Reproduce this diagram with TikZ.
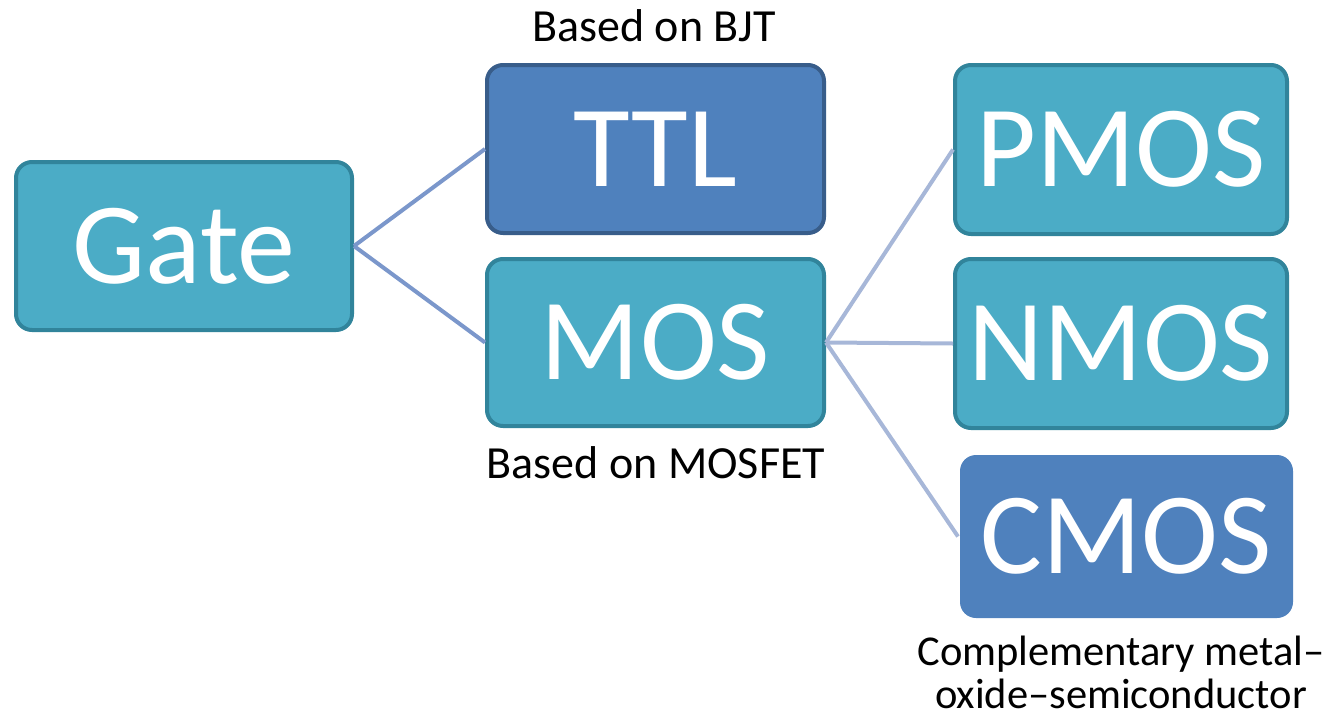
\documentclass[tikz,border=0pt]{standalone}
\usepackage{fontspec}
\setmainfont{Carlito}
\definecolor{tealfill}{HTML}{4BACC6}
\definecolor{tealline}{HTML}{31849B}
\definecolor{bluefill}{HTML}{4F81BD}
\definecolor{blueline}{HTML}{385D8A}
\definecolor{linkA}{HTML}{7B97CB}
\definecolor{linkB}{HTML}{A7B7D8}
\tikzset{
  box/.style={rounded corners=16pt, line width=4pt, inner sep=0pt,
    text=white, font=\fontsize{116}{120}\selectfont,
    text height=74pt, text depth=0pt},
  tealbox/.style={box, fill=tealfill, draw=tealline},
  bluebox/.style={box, fill=bluefill, draw=blueline},
  plainblue/.style={box, fill=bluefill, draw=none},
  lab/.style={font=\fontsize{46}{46}\selectfont, align=center, inner sep=0pt, anchor=base},
  smalllab/.style={lab, font=\fontsize{42.5}{43}\selectfont},
  linkone/.style={draw=linkA, line width=4pt},
  linktwo/.style={draw=linkB, line width=4pt}
}
\begin{document}
\begin{tikzpicture}[x=1pt,y=-1pt]
\useasboundingbox (0,0) rectangle (1331,713);
\node[tealbox, minimum width=336pt, minimum height=168pt] (gate) at (184,246) {Gate};
\node[bluebox, minimum width=337pt, minimum height=168pt] (ttl) at (655.5,149) {TTL};
\node[tealbox, minimum width=337pt, minimum height=167pt] (mos) at (655.5,342.5) {MOS};
\node[tealbox, minimum width=332pt, minimum height=169pt] (pmos) at (1121,149.5) {PMOS};
\node[tealbox, minimum width=332pt, minimum height=169pt] (nmos) at (1121,343.5) {NMOS};
\node[plainblue, minimum width=333pt, minimum height=163pt] (cmos) at (1126.5,536.5) {CMOS};
\draw[linkone] (gate.east) -- (ttl.west);
\draw[linkone] (gate.east) -- (mos.west);
\draw[linktwo] (mos.east) -- (pmos.west);
\draw[linktwo] (mos.east) -- (nmos.west);
\draw[linktwo] (mos.east) -- (cmos.west);
\node[lab] (bjt) at (654,41) {Based on BJT};
\node[lab] (mosfet) at (656,478) {Based on MOSFET};
\node[smalllab] (cmoslab) at (1121,708) {Complementary metal–\\oxide–semiconductor};
\end{tikzpicture}
\end{document}
